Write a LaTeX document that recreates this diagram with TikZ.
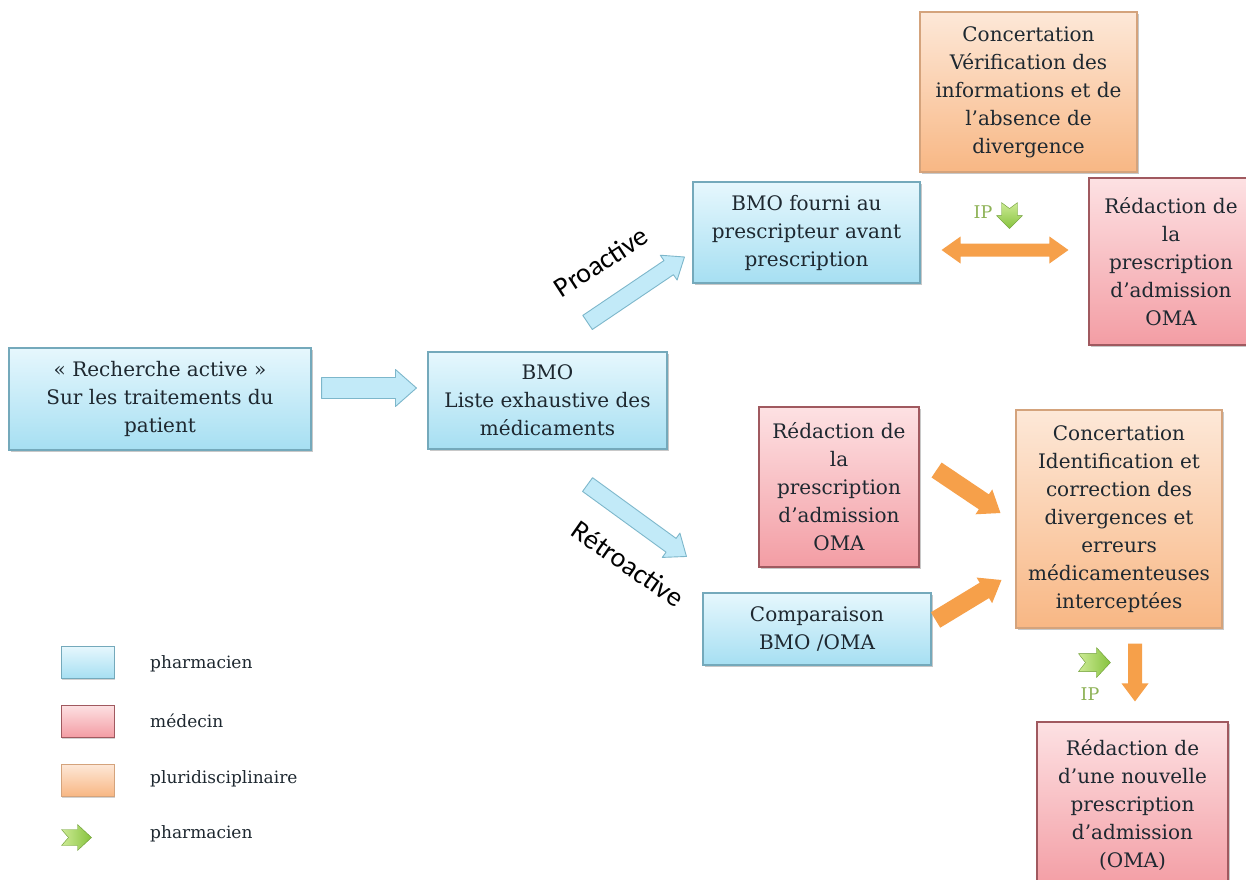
\documentclass[tikz,border=0pt]{standalone}
\usepackage{fontspec}
\setmainfont{DejaVu Serif}
\newfontfamily\lblfont{Carlito}
\usetikzlibrary{calc,shadows}
\definecolor{txt}{HTML}{1E2830}
\definecolor{bluetop}{HTML}{E6F7FD}
\definecolor{bluebot}{HTML}{A6DFF2}
\definecolor{bluebd}{HTML}{74A9BB}
\definecolor{redtop}{HTML}{FDE1E3}
\definecolor{redbot}{HTML}{F39DA4}
\definecolor{redbd}{HTML}{A0595F}
\definecolor{ortop}{HTML}{FDE8D8}
\definecolor{orbot}{HTML}{F8B784}
\definecolor{orbd}{HTML}{D4A37C}
\definecolor{orarrow}{HTML}{F6A04A}
\definecolor{blarrow}{HTML}{C2EAF8}
\definecolor{blarrowbd}{HTML}{7DB7CB}
\definecolor{grtop}{HTML}{CDEB95}
\definecolor{grbot}{HTML}{86C23E}
\definecolor{iptxt}{HTML}{8DB255}

\newcommand\fatarrow[6]{% style, start, end, shaft half, head half, head length
  \coordinate (fa-b) at ($(#3)!#6!(#2)$);
  \path[#1] ($(#2)!#4!90:(#3)$) -- ($(fa-b)!#4!90:(#3)$) -- ($(fa-b)!#5!90:(#3)$) -- (#3)
    -- ($(fa-b)!#5!-90:(#3)$) -- ($(fa-b)!#4!-90:(#3)$) -- ($(#2)!#4!-90:(#3)$) -- cycle;
}
\newcommand\notcharrow[7]{% style, start, end, shaft half, head half, head length, notch depth
  \coordinate (fa-b) at ($(#3)!#6!(#2)$);
  \coordinate (fa-n) at ($(#2)!#7!(#3)$);
  \path[#1] ($(#2)!#4!90:(#3)$) -- ($(fa-b)!#4!90:(#3)$) -- ($(fa-b)!#5!90:(#3)$) -- (#3)
    -- ($(fa-b)!#5!-90:(#3)$) -- ($(fa-b)!#4!-90:(#3)$) -- ($(#2)!#4!-90:(#3)$) -- (fa-n) -- cycle;
}
\newcommand\dblarrow[6]{% style, start, end, shaft half, head half, head length
  \coordinate (fa-s) at ($(#2)!#6!(#3)$);
  \coordinate (fa-e) at ($(#3)!#6!(#2)$);
  \path[#1] (#2) -- ($(fa-s)!#5!90:(#3)$) -- ($(fa-s)!#4!90:(#3)$) -- ($(fa-e)!#4!90:(#3)$) -- ($(fa-e)!#5!90:(#3)$) -- (#3)
    -- ($(fa-e)!#5!-90:(#3)$) -- ($(fa-e)!#4!-90:(#3)$) -- ($(fa-s)!#4!-90:(#3)$) -- ($(fa-s)!#5!-90:(#3)$) -- cycle;
}

\tikzset{
  box/.style={rectangle, line width=1.1pt, align=center, text=txt, inner sep=0pt,
    font=\fontsize{20}{28}\selectfont,
    drop shadow={shadow xshift=1.5pt, shadow yshift=-2pt, opacity=0.3, fill=black!70}},
  pbox/.style={box, draw=bluebd, top color=bluetop, bottom color=bluebot},
  mbox/.style={box, draw=redbd, top color=redtop, bottom color=redbot},
  obox/.style={box, draw=orbd, top color=ortop, bottom color=orbot},
  bluearrow/.style={fill=blarrow, draw=blarrowbd, line width=0.9pt, line join=round},
  orangearrow/.style={fill=orarrow, line join=round},
  greenarrow/.style={top color=grtop, bottom color=grbot, draw=grbot!80!black, line width=0.4pt, line join=round},
  greenarrowh/.style={left color=grtop, right color=grbot, draw=grbot!80!black, line width=0.4pt, line join=round},
  legtext/.style={anchor=west, text=txt, font=\fontsize{17}{20}\selectfont, inner sep=0pt},
  iplabel/.style={text=iptxt, font=\fontsize{17.5}{20}\selectfont, inner sep=0pt},
  sidelabel/.style={text=black, font=\lblfont\fontsize{28}{32}\selectfont, inner sep=0pt},
  legbox/.style={rectangle, line width=1pt, minimum width=53pt, minimum height=32pt, inner sep=0pt,
    drop shadow={shadow xshift=1pt, shadow yshift=-1.5pt, opacity=0.25, fill=black!70}}
}

\begin{document}
\begin{tikzpicture}[x=1pt,y=-1pt]
\useasboundingbox[fill=white] (0,0) rectangle (1246,879);

% boxes
\node[pbox, minimum width=302pt, minimum height=102pt] (A) at (160,399)
  {« Recherche active »\\Sur les traitements du\\patient};
\node[pbox, minimum width=239pt, minimum height=97pt] (B) at (547.5,400.5)
  {BMO\\Liste exhaustive des\\médicaments};
\node[pbox, minimum width=227pt, minimum height=101pt] (F) at (806.5,232.5)
  {BMO fourni au\\prescripteur avant\\prescription};
\node[obox, minimum width=217pt, minimum height=160pt] (C1) at (1028.5,92)
  {Concertation\\Vérification des\\informations et de\\l’absence de\\divergence};
\node[mbox, minimum width=164pt, minimum height=167pt] (R1) at (1171,261.5)
  {Rédaction de\\la\\prescription\\d’admission\\OMA};
\node[mbox, minimum width=160pt, minimum height=160pt] (R2) at (839,487)
  {Rédaction de\\la\\prescription\\d’admission\\OMA};
\node[pbox, minimum width=228pt, minimum height=72pt] (Cmp) at (817,629)
  {Comparaison\\BMO /OMA};
\node[obox, minimum width=206pt, minimum height=218pt] (C2) at (1119,519)
  {Concertation\\Identification et\\correction des\\divergences et\\erreurs\\médicamenteuses\\interceptées};
\node[mbox, minimum width=191pt, minimum height=166pt] (R3) at (1132.5,805)
  {Rédaction de\\d’une nouvelle\\prescription\\d’admission\\(OMA)};

% blue arrows
\coordinate (ab1) at ($(A.east)+(10,-11)$);
\coordinate (ab2) at ($(B.west)+(-11,-12.5)$);
\fatarrow{bluearrow}{ab1}{ab2}{10.5pt}{18.5pt}{21pt}
\coordinate (pr1) at ($(B.north east)+(-80,-29)$);
\coordinate (pr2) at ($(F.west)+(-8,24.5)$);
\fatarrow{bluearrow}{pr1}{pr2}{8.5pt}{15pt}{19pt}
\coordinate (rt1) at ($(B.south east)+(-80,35)$);
\coordinate (rt2) at ($(Cmp.north west)+(-16,-36)$);
\fatarrow{bluearrow}{rt1}{rt2}{8.5pt}{15pt}{19pt}

% orange arrows
\coordinate (o1a) at ($(R2.east)+(17,-17)$);
\coordinate (o1b) at ($(C2.west)+(-15,-6)$);
\fatarrow{orangearrow}{o1a}{o1b}{9pt}{15pt}{20pt}
\coordinate (o2a) at ($(Cmp.east)+(4,-9)$);
\coordinate (o2b) at ($(C2.west)+(-14,61)$);
\fatarrow{orangearrow}{o2a}{o2b}{9pt}{15pt}{20pt}
\coordinate (dA) at ($(F.east)+(21,17.5)$);
\coordinate (dB) at ($(R1.west)+(-20,-11.5)$);
\dblarrow{orangearrow}{dA}{dB}{6.5pt}{13.5pt}{19pt}
\coordinate (dn1) at ($(C2.south)+(16,15)$);
\coordinate (dn2) at ($(R3.north)+(2.5,-20)$);
\fatarrow{orangearrow}{dn1}{dn2}{7pt}{13.5pt}{18pt}

% green arrows
\coordinate (g1a) at ($(C1.south)+(-19,30)$);
\coordinate (g1b) at ($(C1.south)+(-19,56)$);
\notcharrow{greenarrow}{g1a}{g1b}{8pt}{13pt}{13pt}{6pt}
\node[iplabel] (ip1) at (983,212) {IP};
\coordinate (g2a) at ($(C2.south west)+(63,34)$);
\coordinate (g2b) at ($(C2.south west)+(95,34)$);
\notcharrow{greenarrowh}{g2a}{g2b}{9pt}{15pt}{14pt}{7pt}
\node[iplabel] (ip2) at (1090,694) {IP};

% side labels
\node[sidelabel, rotate=33] (pro) at (601,262) {Proactive};
\node[sidelabel, rotate=-35] (retro) at (628,564) {Rétroactive};

% legend
\node[legbox, draw=bluebd, top color=bluetop, bottom color=bluebot] (L1) at (87.5,662.5) {};
\node[legtext] (T1) at (150,664) {pharmacien};
\node[legbox, draw=redbd, top color=redtop, bottom color=redbot] (L2) at (87.5,721) {};
\node[legtext] (T2) at (150,721) {médecin};
\node[legbox, draw=orbd, top color=ortop, bottom color=orbot] (L3) at (87.5,780) {};
\node[legtext] (T3) at (150,779) {pluridisciplinaire};
\coordinate (g3a) at ($(L3.south west)+(1,41)$);
\coordinate (g3b) at ($(L3.south west)+(31,41)$);
\notcharrow{greenarrowh}{g3a}{g3b}{8pt}{13pt}{14pt}{7pt}
\node[legtext] (T4) at (150,834) {pharmacien};
\end{tikzpicture}
\end{document}
